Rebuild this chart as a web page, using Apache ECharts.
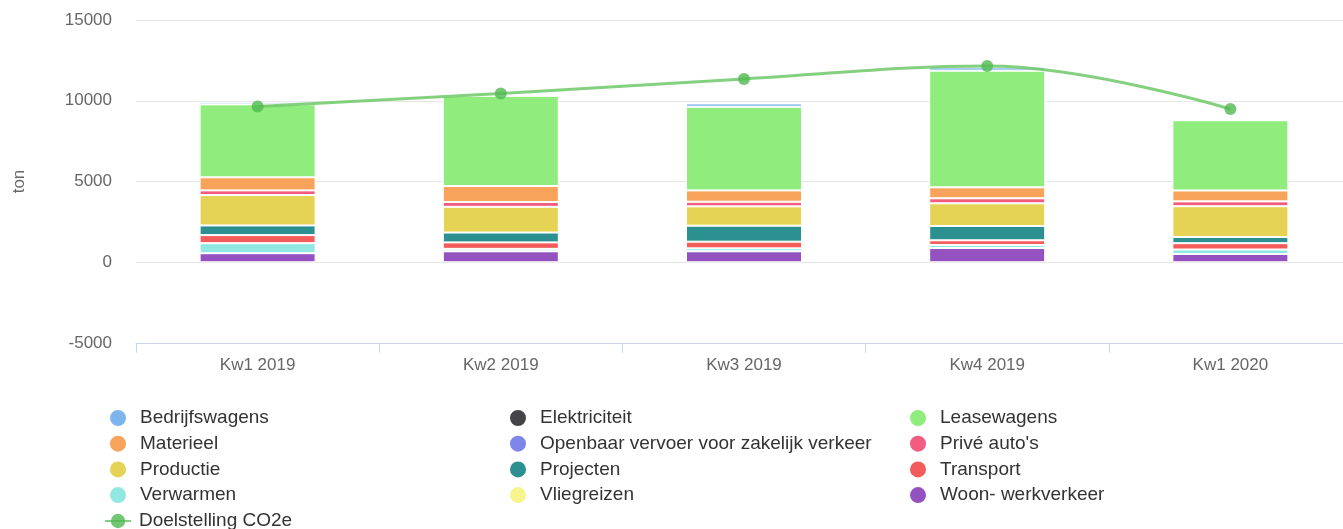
<!DOCTYPE html>
<html>
<head>
<meta charset="utf-8">
<script src="https://cdn.jsdelivr.net/npm/echarts@6/dist/echarts.min.js"></script>
<style>
html,body{margin:0;padding:0;background:#fff;overflow:hidden;width:1343px;height:529px;}
#chart{width:1352px;height:529px;}
</style>
</head>
<body>
<div id="chart"></div>
<script>
var categories = ['Kw1 2019', 'Kw2 2019', 'Kw3 2019', 'Kw4 2019', 'Kw1 2020'];

var bedrijfswagens   = [150, 30, 205, 205, 0];
var elektriciteit    = [0, 0, 0, 0, 0];
var leasewagens      = [4520, 5590, 5180, 7225, 4350];
var materieel        = [810, 990, 700, 680, 675];
var openbaarVervoer  = [0, 0, 0, 0, 0];
var priveAutos       = [290, 300, 290, 310, 300];
var productie        = [1880, 1590, 1195, 1405, 1905];
var projecten        = [600, 610, 990, 885, 385];
var transport        = [500, 400, 415, 290, 390];
var verwarmen        = [620, 150, 180, 190, 280];
var vliegreizen      = [0, 0, 0, 0, 0];
var woonWerkverkeer  = [560, 680, 680, 880, 510];
var doelstelling     = [9650, 10450, 11350, 12150, 9490];

var yTicks = [-5000, 0, 5000, 10000, 15000];

var seriesDefs = [
  ['Bedrijfswagens', bedrijfswagens, '#7cb5ec'],
  ['Elektriciteit', elektriciteit, '#434348'],
  ['Leasewagens', leasewagens, '#90ed7d'],
  ['Materieel', materieel, '#f7a35c'],
  ['Openbaar vervoer voor zakelijk verkeer', openbaarVervoer, '#8085e9'],
  ["Privé auto's", priveAutos, '#f15c80'],
  ['Productie', productie, '#e4d354'],
  ['Projecten', projecten, '#2b908f'],
  ['Transport', transport, '#f45b5b'],
  ['Verwarmen', verwarmen, '#91e8e1'],
  ['Vliegreizen', vliegreizen, '#f7f38d'],
  ['Woon- werkverkeer', woonWerkverkeer, '#9452c0']
];

var series = [];
// stack bottom-up: last defined sits at the bottom
for (var i = seriesDefs.length - 1; i >= 0; i--) {
  var d = seriesDefs[i];
  series.push({
    name: d[0], type: 'bar', stack: 'total', data: d[1],
    barWidth: 116,
    itemStyle: {color: d[2], borderColor: '#ffffff', borderWidth: 1},
    emphasis: {disabled: true}
  });
}
series.push({
  name: 'Doelstelling CO2e', type: 'line', data: doelstelling,
  smooth: 0.4, symbol: 'circle', symbolSize: 12, z: 5,
  lineStyle: {color: 'rgba(110,200,105,0.85)', width: 3},
  itemStyle: {color: 'rgba(80,185,80,0.8)'}
});

var fontFam = 'Liberation Sans, Arial, sans-serif';

function legendCol(names, left) {
  return {
    orient: 'vertical', left: left, top: 408, padding: 0,
    itemWidth: 18, itemHeight: 18, itemGap: 5.7,
    icon: 'circle',
    textStyle: {fontSize: 19, color: '#333333', fontFamily: fontFam, lineHeight: 20, padding: [0, 0, 0, 8]},
    data: names,
    selectedMode: false
  };
}

var option = {
  animation: false,
  backgroundColor: '#ffffff',
  textStyle: {fontFamily: fontFam},
  grid: {left: 136, right: 0, top: 20, bottom: 186, containLabel: false},
  legend: [
    legendCol(['Bedrijfswagens', 'Materieel', 'Productie', 'Verwarmen'], 108),
    legendCol(['Elektriciteit', 'Openbaar vervoer voor zakelijk verkeer', 'Projecten', 'Vliegreizen'], 508),
    legendCol(['Leasewagens', "Privé auto's", 'Transport', 'Woon- werkverkeer'], 908),
    {
      orient: 'vertical', left: 104, top: 511, padding: 0,
      itemWidth: 26, itemHeight: 18,
      textStyle: {fontSize: 19, color: '#333333', fontFamily: fontFam, lineHeight: 20, padding: [0, 0, 0, 3]},
      data: ['Doelstelling CO2e'],
      selectedMode: false
    }
  ],
  xAxis: {
    type: 'category', data: categories,
    axisLine: {onZero: false, lineStyle: {color: '#ccd6eb', width: 1}},
    axisTick: {show: true, length: 10, lineStyle: {color: '#ccd6eb'}},
    axisLabel: {color: '#666666', fontSize: 17, margin: 14},
    position: 'bottom',
    axisPointer: {show: false}
  },
  yAxis: {
    type: 'value', min: yTicks[0], max: yTicks[yTicks.length - 1], interval: 5000,
    name: 'ton', nameLocation: 'middle', nameRotate: 90, nameGap: 108,
    nameTextStyle: {color: '#666666', fontSize: 17},
    axisLine: {show: false}, axisTick: {show: false},
    axisLabel: {color: '#666666', fontSize: 17, margin: 24, formatter: function(v){ return String(v); }},
    splitLine: {lineStyle: {color: '#e6e6e6', width: 1}}
  },
  series: series
};

var chart = echarts.init(document.getElementById('chart'), null, {renderer: 'canvas'});
chart.setOption(option);
</script>
</body>
</html>
